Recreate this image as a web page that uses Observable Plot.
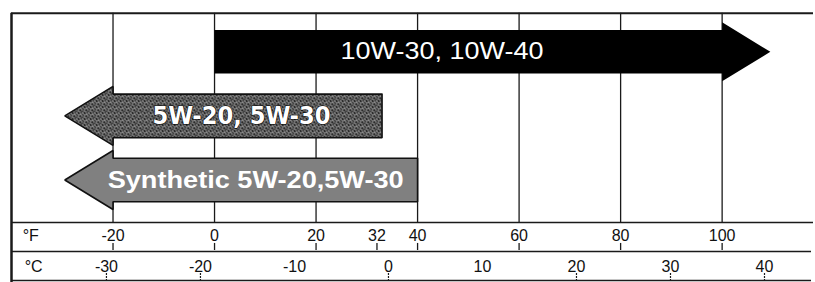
<!DOCTYPE html>
<html><head><meta charset="utf-8">
<script src="https://cdn.jsdelivr.net/npm/d3@7"></script>
<script src="https://cdn.jsdelivr.net/npm/@observablehq/plot@0.6"></script>
<style>
html,body{margin:0;padding:0;background:#fff;}
#chart{width:815px;height:282px;overflow:hidden;background:#fff;}
#chart svg{display:block;}
</style></head><body><div id="chart"></div>
<script>
// ---- data ----
const grades = ["10W-30, 10W-40", "5W-20, 5W-30", "Synthetic 5W-20,5W-30"];
const tailF = [0, 33, 40];        // °F where the arrow body starts (flat end)
const headF = [100, -20, -20];    // °F where the arrow head begins
const labelF = [44.8, 5.3, 8.1];  // °F at the centre of each label
const fTicks = [-20, 0, 20, 32, 40, 60, 80, 100];
const fGrid = [-20, 0, 20, 40, 60, 80, 100];
const cTicks = [-30, -20, -10, 0, 10, 20, 30, 40];
const cTickMarks = [-30, -20, 0, 20, 30, 40];

// ---- styles ----
const arrowFill = ["#000", "url(#speckle)", "url(#checker)"];
const labelFont = [
  {fontFamily: "Liberation Sans, Arial, sans-serif", fontWeight: "normal", fontSize: 24, len: 203},
  {fontFamily: "DejaVu Sans, sans-serif", fontWeight: "bold", fontSize: 25, len: 178},
  {fontFamily: "Liberation Sans, Arial, sans-serif", fontWeight: "bold", fontSize: 24.5, len: 296}
];
const HEAD = 9.5, BODY = 0.34, HALF = 0.46;
const TOP = -0.6, FROW = 2.663, FLAB = 2.866, FTICK = 2.99, FBOT = 3.1;
const LINE = "#1a1a1a";
const TICKFONT = 16;

const arrows = grades.map((g, i) => {
  const s = tailF[i], h = headF[i], d = Math.sign(h - s), tip = h + d * HEAD, r = i;
  return [[s, r - BODY], [h, r - BODY], [h, r - HALF], [tip, r], [h, r + HALF], [h, r + BODY], [s, r + BODY], [s, r - BODY]]
    .map(([x, y]) => ({x, y}));
});

const marksA = [
  Plot.ruleX(fGrid, {x: d => d, y1: TOP, y2: FROW, stroke: LINE, strokeWidth: 1.3}),
  ...arrows.map((pts, i) => Plot.line(pts, {x: "x", y: "y", fill: arrowFill[i], stroke: i === 0 ? "#000" : "#111", strokeWidth: i === 0 ? 0 : 1.6, strokeLinejoin: "miter"})),
  ...grades.map((g, i) => Plot.text([g], {x: labelF[i], y: i, text: d => d, fill: "#fff",
      stroke: i === 1 ? "#000" : "none", strokeWidth: i === 1 ? 1.2 : 0,
      fontFamily: labelFont[i].fontFamily, fontWeight: labelFont[i].fontWeight, fontSize: labelFont[i].fontSize})),
  Plot.ruleY([TOP], {stroke: LINE, strokeWidth: 2}),
  Plot.ruleY([FROW], {stroke: LINE, strokeWidth: 1.5}),
  Plot.ruleX([-40], {y1: TOP, y2: FBOT, stroke: LINE, strokeWidth: 2.5}),
  Plot.ruleX(fTicks, {x: d => d, y1: FTICK, y2: FBOT, stroke: LINE, strokeWidth: 1.3}),
  Plot.text(fTicks.map(String), {x: d => +d, y: FLAB, text: d => d, fontSize: TICKFONT, fill: "#111"}),
  Plot.text(["°F"], {x: -37.8, y: FLAB, text: d => d, textAnchor: "start", fontSize: TICKFONT, fill: "#111"})
];

const plotA = Plot.plot({
  width: 815, height: 250,
  marginLeft: 11, marginRight: 2, marginTop: 0, marginBottom: 0,
  x: {domain: [-40, 118], axis: null},
  y: {domain: [-0.8, 3.1], reverse: true, axis: null},
  style: {background: "#fff", fontFamily: "Liberation Sans, Arial, sans-serif", overflow: "visible"},
  marks: marksA
});

const defs = document.createElementNS("http://www.w3.org/2000/svg", "defs");
defs.innerHTML =
  '<pattern id="checker" width="2" height="2" patternUnits="userSpaceOnUse">' +
    '<rect width="2" height="2" fill="#aaaaaa"/><rect width="1" height="1" fill="#555555"/><rect x="1" y="1" width="1" height="1" fill="#555555"/></pattern>' +
  '<pattern id="speckle" width="6" height="6" patternUnits="userSpaceOnUse">' +
    '<rect width="6" height="6" fill="#2c2c2c"/>' +
    '<rect x="0" y="0" width="1" height="1" fill="#e6e6e6"/><rect x="3" y="1" width="1" height="1" fill="#e6e6e6"/>' +
    '<rect x="5" y="2" width="1" height="1" fill="#e6e6e6"/><rect x="1" y="3" width="1" height="1" fill="#e6e6e6"/>' +
    '<rect x="4" y="4" width="1" height="1" fill="#e6e6e6"/><rect x="2" y="5" width="1" height="1" fill="#e6e6e6"/>' +
    '<rect x="2" y="0" width="1" height="1" fill="#8c8c8c"/><rect x="5" y="0" width="1" height="1" fill="#8c8c8c"/>' +
    '<rect x="0" y="2" width="1" height="1" fill="#8c8c8c"/><rect x="3" y="3" width="1" height="1" fill="#8c8c8c"/>' +
    '<rect x="1" y="5" width="1" height="1" fill="#8c8c8c"/><rect x="4" y="5" width="1" height="1" fill="#8c8c8c"/></pattern>';
plotA.insertBefore(defs, plotA.firstChild);

plotA.querySelectorAll("text").forEach(t => {
  const i = grades.indexOf(t.textContent);
  if (i >= 0) {
    t.setAttribute("textLength", labelFont[i].len);
    t.setAttribute("lengthAdjust", "spacingAndGlyphs");
  }
});

const plotB = Plot.plot({
  width: 815, height: 32,
  marginLeft: 11, marginRight: 4, marginTop: 0, marginBottom: 0,
  x: {domain: [-40.1, 45], axis: null},
  y: {domain: [0, 1], reverse: true, axis: null},
  style: {background: "#fff", fontFamily: "Liberation Sans, Arial, sans-serif", overflow: "visible"},
  marks: [
    Plot.ruleY([0.03], {stroke: LINE, strokeWidth: 1.5}),
    Plot.ruleY([0.94], {stroke: LINE, strokeWidth: 1.5}),
    Plot.ruleX([-40.1], {y1: 0, y2: 1, stroke: LINE, strokeWidth: 2.5}),
    Plot.ruleX(cTickMarks, {x: d => d, y1: 0.72, y2: 0.94, stroke: LINE, strokeWidth: 1.2, strokeDasharray: "2,1"}),
    Plot.text(cTicks.map(String), {x: d => +d, y: 0.5, text: d => d, fontSize: TICKFONT, fill: "#111"}),
    Plot.text(["°C"], {x: -38.7, y: 0.5, text: d => d, textAnchor: "start", fontSize: TICKFONT, fill: "#111"})
  ]
});

const chart = document.getElementById("chart");
chart.appendChild(plotA);
chart.appendChild(plotB);
</script>
</body></html>
